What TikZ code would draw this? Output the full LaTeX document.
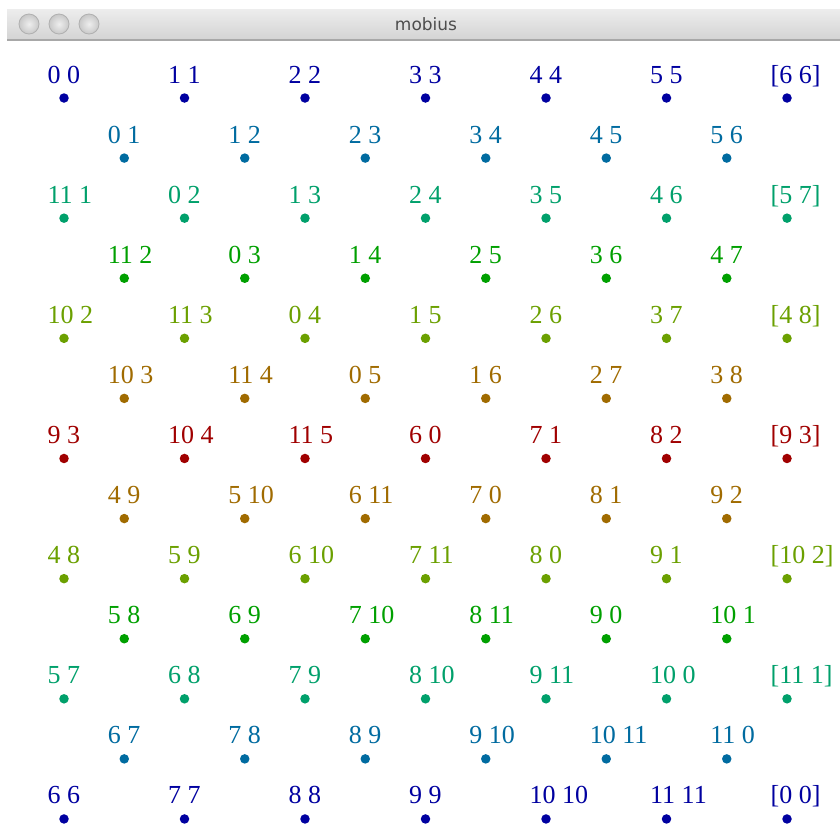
\documentclass[tikz,border=0pt]{standalone}
\usepackage{fontspec}
\setmainfont{Liberation Serif}
\newfontfamily\titlefont{DejaVu Sans}
\definecolor{c0}{HTML}{0000A0}
\definecolor{c1}{HTML}{006BA0}
\definecolor{c2}{HTML}{00A06B}
\definecolor{c3}{HTML}{00A000}
\definecolor{c4}{HTML}{6BA000}
\definecolor{c5}{HTML}{A06B00}
\definecolor{c6}{HTML}{A00000}
\definecolor{bartop}{HTML}{EDEDED}
\definecolor{barbot}{HTML}{D4D4D4}
\definecolor{barline}{HTML}{A8A8A8}
\definecolor{titlegrey}{HTML}{4D4D4D}
\definecolor{btnin}{HTML}{EEEEEE}
\definecolor{btnout}{HTML}{C8C8C8}
\definecolor{btnline}{HTML}{B0B0B0}
\newcommand\mobrow[3]{%
  \pgfmathsetmacro\ry{98+60.08*#1}%
  \pgfmathsetmacro\rx{mod(#1,2)==0 ? 64 : 124.25}%
  \foreach \t [count=\i from 0] in {#3}{%
    \pgfmathsetmacro\dx{\rx+120.5*\i}%
    \node[mobdot,fill=#2] (d-#1-\i) at (\dx,\ry) {};
    \node[moblab,text=#2] (l-#1-\i) at (\dx-16.5,\ry-15) {\t};
  }%
}
\begin{document}
\begin{tikzpicture}[x=1pt,y=-1pt,
  mobdot/.style={circle,inner sep=0pt,minimum size=9.5pt,draw=none},
  moblab/.style={anchor=base west,inner sep=0pt,font=\fontsize{26}{26}\selectfont},
  btn/.style={circle,inner sep=0pt,minimum size=20pt,draw=btnline,line width=0.8pt,inner color=btnin,outer color=btnout}]
\useasboundingbox (0,0) rectangle (840,825);
\fill[white] (0,0) rectangle (840,825);
% title bar
\shade[top color=bartop,bottom color=barbot] (7,9) rectangle (840,39);
\fill[barline] (7,39) rectangle (840,41);
\node[btn] (b1) at (29,24) {};
\node[btn] (b2) at (59,24) {};
\node[btn] (b3) at (89,24) {};
\node[anchor=base,inner sep=0pt,text=titlegrey,font=\titlefont\fontsize{17}{17}\selectfont] (title) at (426,30) {mobius};
% grid
\mobrow{0}{c0}{{0 0},{1 1},{2 2},{3 3},{4 4},{5 5},{[6 6]}}
\mobrow{1}{c1}{{0 1},{1 2},{2 3},{3 4},{4 5},{5 6}}
\mobrow{2}{c2}{{11 1},{0 2},{1 3},{2 4},{3 5},{4 6},{[5 7]}}
\mobrow{3}{c3}{{11 2},{0 3},{1 4},{2 5},{3 6},{4 7}}
\mobrow{4}{c4}{{10 2},{11 3},{0 4},{1 5},{2 6},{3 7},{[4 8]}}
\mobrow{5}{c5}{{10 3},{11 4},{0 5},{1 6},{2 7},{3 8}}
\mobrow{6}{c6}{{9 3},{10 4},{11 5},{6 0},{7 1},{8 2},{[9 3]}}
\mobrow{7}{c5}{{4 9},{5 10},{6 11},{7 0},{8 1},{9 2}}
\mobrow{8}{c4}{{4 8},{5 9},{6 10},{7 11},{8 0},{9 1},{[10 2]}}
\mobrow{9}{c3}{{5 8},{6 9},{7 10},{8 11},{9 0},{10 1}}
\mobrow{10}{c2}{{5 7},{6 8},{7 9},{8 10},{9 11},{10 0},{[11 1]}}
\mobrow{11}{c1}{{6 7},{7 8},{8 9},{9 10},{10 11},{11 0}}
\mobrow{12}{c0}{{6 6},{7 7},{8 8},{9 9},{10 10},{11 11},{[0 0]}}
\end{tikzpicture}
\end{document}
